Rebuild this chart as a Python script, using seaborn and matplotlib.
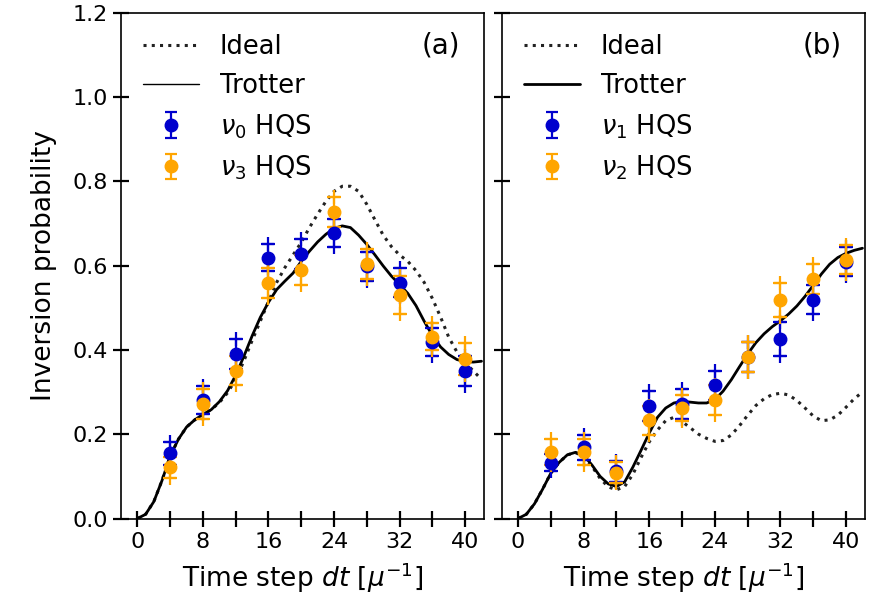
import numpy as np
import pandas as pd
import matplotlib
matplotlib.use("Agg")
import matplotlib.pyplot as plt
import seaborn as sns

# curves, read at integer time steps
t_curve = list(range(0, 43))
trotter_a = [0.0, 0.010, 0.040, 0.090, 0.148, 0.188, 0.217, 0.234, 0.247, 0.258,
             0.277, 0.303, 0.340, 0.385, 0.433, 0.477, 0.513, 0.543, 0.563, 0.582,
             0.610, 0.634, 0.656, 0.674, 0.688, 0.694, 0.690, 0.672, 0.650, 0.625,
             0.599, 0.575, 0.555, 0.534, 0.505, 0.468, 0.434, 0.407, 0.389, 0.377,
             0.372, 0.371, 0.373]
ideal_a = [0.0, 0.010, 0.040, 0.090, 0.148, 0.188, 0.217, 0.234, 0.247, 0.258,
           0.275, 0.298, 0.330, 0.374, 0.422, 0.468, 0.515, 0.560, 0.595, 0.625,
           0.655, 0.690, 0.722, 0.752, 0.776, 0.788, 0.788, 0.776, 0.745, 0.708,
           0.672, 0.645, 0.625, 0.610, 0.588, 0.560, 0.522, 0.478, 0.430, 0.395,
           0.370, 0.350, 0.330]
trotter_b = [0.0, 0.010, 0.035, 0.070, 0.108, 0.133, 0.151, 0.157, 0.150, 0.127,
             0.100, 0.082, 0.076, 0.087, 0.122, 0.162, 0.203, 0.240, 0.262, 0.274,
             0.278, 0.276, 0.274, 0.274, 0.282, 0.302, 0.329, 0.360, 0.390, 0.417,
             0.438, 0.455, 0.469, 0.485, 0.504, 0.527, 0.553, 0.580, 0.603, 0.619,
             0.629, 0.636, 0.641]
ideal_b = [0.0, 0.010, 0.035, 0.070, 0.108, 0.133, 0.151, 0.156, 0.148, 0.124,
           0.095, 0.075, 0.068, 0.076, 0.105, 0.145, 0.182, 0.210, 0.232, 0.240,
           0.230, 0.215, 0.200, 0.190, 0.183, 0.185, 0.198, 0.220, 0.245, 0.268,
           0.284, 0.294, 0.297, 0.293, 0.280, 0.262, 0.243, 0.232, 0.234, 0.245,
           0.264, 0.284, 0.300]

# measured points
t_data = [4, 8, 12, 16, 20, 24, 28, 32, 36, 40]
nu0 = [0.155, 0.282, 0.390, 0.619, 0.627, 0.677, 0.598, 0.559, 0.419, 0.350]
nu0_err = [0.027, 0.033, 0.035, 0.033, 0.035, 0.034, 0.035, 0.034, 0.034, 0.035]
nu3 = [0.122, 0.272, 0.351, 0.559, 0.589, 0.727, 0.603, 0.530, 0.431, 0.378]
nu3_err = [0.025, 0.035, 0.035, 0.035, 0.035, 0.035, 0.035, 0.045, 0.032, 0.038]
nu1 = [0.132, 0.169, 0.112, 0.267, 0.272, 0.316, 0.383, 0.425, 0.519, 0.609]
nu1_err = [0.020, 0.030, 0.025, 0.035, 0.035, 0.035, 0.035, 0.040, 0.035, 0.035]
nu2 = [0.158, 0.158, 0.109, 0.233, 0.262, 0.281, 0.383, 0.518, 0.568, 0.614]
nu2_err = [0.030, 0.030, 0.025, 0.035, 0.030, 0.035, 0.035, 0.040, 0.035, 0.035]

x_ticks = [0, 4, 8, 12, 16, 20, 24, 28, 32, 36, 40]
x_ticklabels = ["0", "", "8", "", "16", "", "24", "", "32", "", "40"]
y_ticks = [0.0, 0.2, 0.4, 0.6, 0.8, 1.0, 1.2]
y_ticklabels = ["0.0", "0.2", "0.4", "0.6", "0.8", "1.0", "1.2"]

sns.set_style("ticks", {"axes.edgecolor": "black", "text.color": "black",
                        "xtick.color": "black", "ytick.color": "black",
                        "axes.labelcolor": "black"})
plt.rcParams["font.family"] = ["DejaVu Sans"]
plt.rcParams["mathtext.fontset"] = "dejavusans"

fig = plt.figure(figsize=(8.88, 5.96), dpi=100)
ax_a = fig.add_axes([0.1363, 0.130, 0.4087, 0.849])
ax_b = fig.add_axes([0.565, 0.130, 0.409, 0.849])

blue = "#0000CD"
orange = "#FFA500"


def panel(ax, trotter, ideal, s1, e1, l1, s2, e2, l2, tag, thin_legend):
    df = pd.DataFrame({"t": t_curve, "trotter": trotter, "ideal": ideal})
    sns.lineplot(data=df, x="t", y="ideal", ax=ax, color="#222222",
                 linestyle=(0, (1, 1.7)), lw=2.2, label="Ideal")
    sns.lineplot(data=df, x="t", y="trotter", ax=ax, color="black",
                 lw=2.0, label="Trotter")
    for s, e, c, lab in [(s1, e1, blue, l1), (s2, e2, orange, l2)]:
        s = np.array(s)
        e = np.array(e)
        ax.errorbar(t_data, s, yerr=e, fmt="o", color=c, ms=9,
                    elinewidth=1.6, capsize=4.5, capthick=1.6, label=lab, zorder=3)
        ax.plot(t_data, s + e, "+", color=c, ms=10, mew=1.6, zorder=3)
        ax.plot(t_data, s - e, "+", color=c, ms=10, mew=1.6, zorder=3)
    ax.set_xlim(-2, 42.3)
    ax.set_ylim(0, 1.2)
    ax.set_xticks(x_ticks)
    ax.set_xticklabels(x_ticklabels)
    ax.set_yticks(y_ticks)
    ax.tick_params(direction="inout", length=12, width=1.6, labelsize=16,
                   color="black", labelcolor="black")
    ax.set_xlabel(r"Time step $dt$ [$\mu^{-1}$]", fontsize=19, color="black",
                  labelpad=6)
    for sp in ax.spines.values():
        sp.set_linewidth(1.2)
        sp.set_color("black")
        sp.set_visible(True)
    ax.text(0.882, 0.935, tag, transform=ax.transAxes, fontsize=20,
            ha="center", va="center", color="black")
    leg = ax.legend(loc="upper left", frameon=False, fontsize=18.5,
                    handlelength=2.2, labelspacing=0.5, borderaxespad=0.45,
                    labelcolor="black")
    if thin_legend:
        leg.get_lines()[1].set_linewidth(1.0)


panel(ax_a, trotter_a, ideal_a, nu0, nu0_err, r"$\nu_0$ HQS",
      nu3, nu3_err, r"$\nu_3$ HQS", "(a)", True)
panel(ax_b, trotter_b, ideal_b, nu1, nu1_err, r"$\nu_1$ HQS",
      nu2, nu2_err, r"$\nu_2$ HQS", "(b)", False)

ax_a.set_ylabel("Inversion probability", fontsize=19, color="black",
                labelpad=11)
ax_a.set_yticklabels(y_ticklabels)
ax_b.set_ylabel("")
ax_b.set_yticklabels([])

fig.savefig("out.png", dpi=100)
